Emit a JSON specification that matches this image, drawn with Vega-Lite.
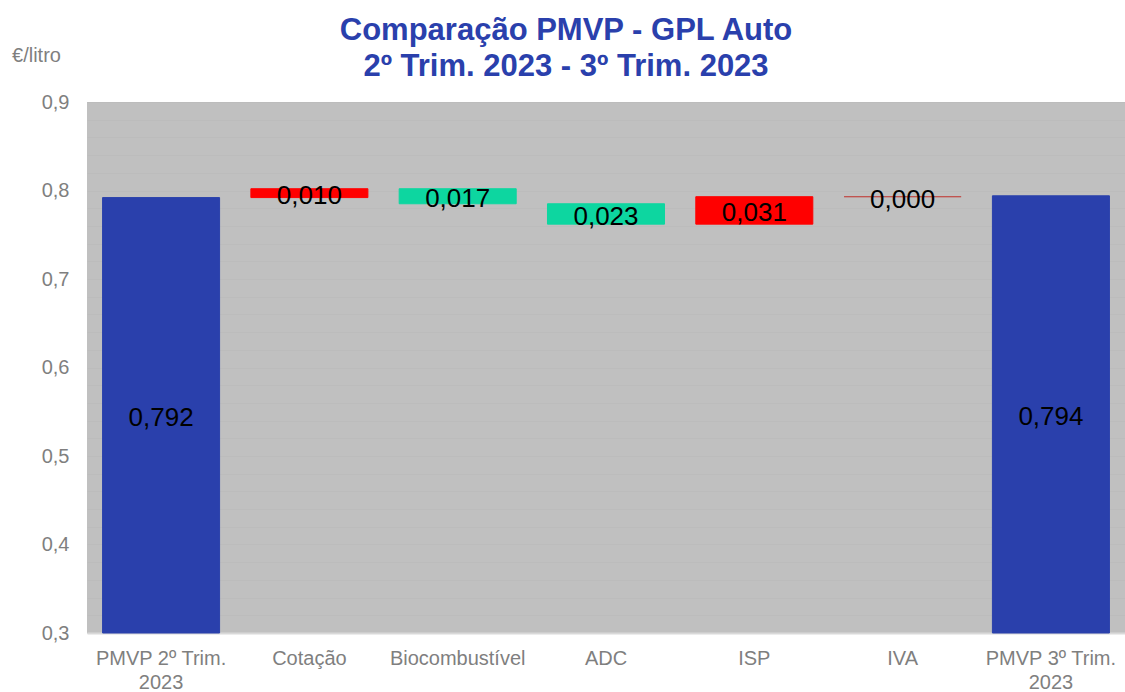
{
  "$schema": "https://vega.github.io/schema/vega-lite/v6.json",
  "width": 1038,
  "height": 531,
  "autosize": {"type": "none"},
  "padding": {"left": 87, "top": 102, "right": 0, "bottom": 59},
  "background": "white",
  "config": {
    "locale": {"number": {"decimal": ",", "thousands": ".", "grouping": [3], "currency": ["", " €"]}},
    "view": {"fill": "#C0C0C0", "stroke": null},
    "font": "Liberation Sans"
  },
  "title": {
    "text": ["Comparação PMVP - GPL Auto", "2º Trim. 2023 - 3º Trim. 2023"],
    "font": "Liberation Sans",
    "fontSize": 31,
    "fontWeight": "bold",
    "color": "#2A40AC",
    "lineHeight": 36,
    "anchor": "middle",
    "dx": -40,
    "dy": 60,
    "offset": 22
  },
  "data": {
    "values": [
      {"cat": "PMVP 2º Trim. 2023", "start": 0.3, "end": 0.792, "value": 0.792, "kind": "total"},
      {"cat": "Cotação", "start": 0.792, "end": 0.802, "value": 0.010, "kind": "up"},
      {"cat": "Biocombustível", "start": 0.802, "end": 0.785, "value": 0.017, "kind": "down"},
      {"cat": "ADC", "start": 0.785, "end": 0.762, "value": 0.023, "kind": "down"},
      {"cat": "ISP", "start": 0.762, "end": 0.793, "value": 0.031, "kind": "up"},
      {"cat": "IVA", "start": 0.793, "end": 0.793, "value": 0.000, "kind": "zero"},
      {"cat": "PMVP 3º Trim. 2023", "start": 0.3, "end": 0.794, "value": 0.794, "kind": "total"}
    ]
  },
  "transform": [{"calculate": "(datum.start + datum.end) / 2", "as": "mid"}],
  "encoding": {
    "x": {
      "field": "cat",
      "type": "nominal",
      "sort": null,
      "scale": {"paddingInner": 0.211, "paddingOuter": 0.105},
      "axis": {
        "title": null,
        "labelAngle": 0,
        "labelFont": "Liberation Sans",
        "labelFontSize": 20,
        "labelColor": "#7F7F7F",
        "labelPadding": 15,
        "labelLineHeight": 24,
        "labelExpr": "indexof(datum.label, 'PMVP') == 0 ? [substring(datum.label, 0, 13), '2023'] : datum.label",
        "ticks": false,
        "domainColor": "#D9D9D9",
        "domainWidth": 2,
        "grid": false
      }
    }
  },
  "layer": [
    {
      "mark": {"type": "bar", "strokeWidth": 1},
      "encoding": {
        "y": {
          "field": "start",
          "type": "quantitative",
          "scale": {"domain": [0.3, 0.9], "nice": false, "zero": false},
          "axis": {
            "title": "€/litro",
            "titleAngle": 0,
            "titleFont": "Liberation Sans",
            "titleFontSize": 20,
            "titleFontWeight": "normal",
            "titleColor": "#7F7F7F",
            "titleAlign": "center",
            "titleBaseline": "middle",
            "titleX": -51,
            "titleY": -47,
            "tickCount": 60,
            "values": [0.3, 0.32, 0.34, 0.36, 0.38, 0.4, 0.42, 0.44, 0.46, 0.48, 0.5, 0.52, 0.54, 0.56, 0.58, 0.6, 0.62, 0.64, 0.66, 0.68, 0.7, 0.72, 0.74, 0.76, 0.78, 0.8, 0.82, 0.84, 0.86, 0.88, 0.9],
            "format": ".1f",
            "labelExpr": "abs(datum.value * 10 - round(datum.value * 10)) < 0.001 ? datum.label : ''",
            "labelOverlap": false,
            "labelFont": "Liberation Sans",
            "labelFontSize": 20,
            "labelColor": "#7F7F7F",
            "labelPadding": 18,
            "ticks": false,
            "domain": false,
            "grid": true,
            "gridColor": "#BCBCBC",
            "gridWidth": 1
          }
        },
        "y2": {"field": "end"},
        "color": {
          "field": "kind",
          "type": "nominal",
          "scale": {"domain": ["total", "up", "down", "zero"], "range": ["#2A40AC", "#FF0000", "#0DD6A0", "#C0504D"]},
          "legend": null
        },
        "stroke": {
          "field": "kind",
          "type": "nominal",
          "scale": {"domain": ["total", "up", "down", "zero"], "range": ["#2A40AC", "#FF0000", "#0DD6A0", "#C0504D"]},
          "legend": null
        }
      }
    },
    {
      "mark": {"type": "text", "font": "Liberation Sans", "fontSize": 26, "color": "black", "baseline": "middle", "dy": 3},
      "encoding": {
        "y": {"field": "mid", "type": "quantitative"},
        "text": {"field": "value", "type": "quantitative", "format": ".3f"}
      }
    }
  ]
}
